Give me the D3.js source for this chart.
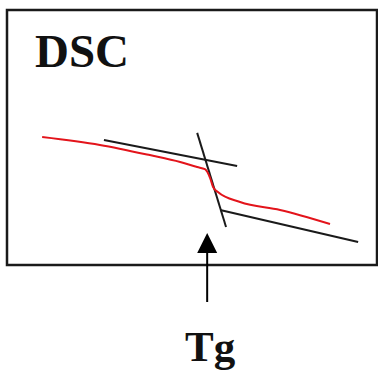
<!DOCTYPE html>
<html>
<head>
<meta charset="utf-8">
<script src="https://cdn.jsdelivr.net/npm/d3@7"></script>
<style>
  body { margin: 0; background: #fff; }
  svg { display: block; }
</style>
</head>
<body>
<div id="chart"></div>
<script>
// DSC trace (arbitrary units: temperature, heat flow)
const dscCurve = [
    [9.5, 50.2], [25.1, 47.1], [38.6, 43.1], [46.8, 40.4], [51.4, 38.4],
    [53.5, 37.6], [54.9, 34.1], [55.7, 30.6], [57.0, 28.6], [63.0, 24.7],
    [73.8, 21.6], [87.3, 16.1]
];

// tangent construction lines
const tangentLines = [
    [[26.2, 49.0], [62.2, 38.8]],
    [[51.4, 51.8], [59.2, 14.9]],
    [[57.6, 21.6], [94.9, 9.0]]
];

const tgValue = 54.1;
const titleText = "DSC";
const tgLabel = "Tg";

const width = 378, height = 373;
const box = { left: 7, right: 377, top: 10, bottom: 265 };

const svg = d3.select("#chart")
    .append("svg")
    .attr("width", width)
    .attr("height", height);

const x = d3.scaleLinear()
    .domain([0, 100])
    .range([box.left, box.right]);

const y = d3.scaleLinear()
    .domain([0, 100])
    .range([box.bottom, box.top]);

// frame
svg.append("rect")
    .attr("x", box.left)
    .attr("y", box.top)
    .attr("width", box.right - box.left)
    .attr("height", box.bottom - box.top)
    .attr("fill", "none")
    .attr("stroke", "#1a1a1a")
    .attr("stroke-width", 2.5);

svg.append("text")
    .attr("x", 35)
    .attr("y", 67)
    .attr("font-family", "Liberation Serif, Times New Roman, serif")
    .attr("font-weight", "bold")
    .attr("font-size", 47)
    .attr("fill", "#111")
    .text(titleText);

const line = d3.line()
    .x(d => x(d[0]))
    .y(d => y(d[1]));

svg.selectAll(".tangent")
    .data(tangentLines)
    .enter().append("path")
    .attr("class", "tangent")
    .attr("d", line)
    .attr("fill", "none")
    .attr("stroke", "#1a1a1a")
    .attr("stroke-width", 2);

svg.append("path")
    .datum(dscCurve)
    .attr("d", d3.line().x(d => x(d[0])).y(d => y(d[1])).curve(d3.curveMonotoneX))
    .attr("fill", "none")
    .attr("stroke", "#e3141b")
    .attr("stroke-width", 2);

// Tg marker
const tx = x(tgValue);
svg.append("path")
    .attr("d", `M${tx},233 L${tx - 10},253 L${tx + 10},253 Z`)
    .attr("fill", "#000");

svg.append("line")
    .attr("x1", tx).attr("x2", tx)
    .attr("y1", 253).attr("y2", 302)
    .attr("stroke", "#000")
    .attr("stroke-width", 2);

svg.append("text")
    .attr("x", tx + 3)
    .attr("y", 361)
    .attr("text-anchor", "middle")
    .attr("font-family", "Liberation Serif, Times New Roman, serif")
    .attr("font-weight", "bold")
    .attr("font-size", 43)
    .attr("fill", "#111")
    .text(tgLabel);
</script>
</body>
</html>
